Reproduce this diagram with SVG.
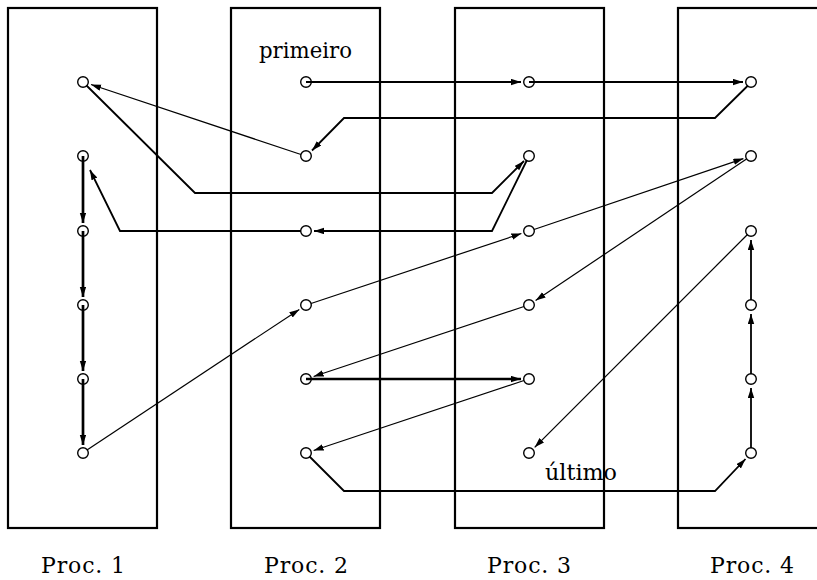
<svg xmlns="http://www.w3.org/2000/svg" width="817" height="580" viewBox="0 0 817 580">
<style>
.box{fill:none;stroke:#000;stroke-width:2.2}
.n{fill:none;stroke:#000;stroke-width:1.4}
.c{fill:none;stroke:#000;marker-end:url(#ah)}
.thin{stroke-width:1.2}
.mid{stroke-width:1.8}
.thick{stroke-width:2.7}
.t{font-family:'DejaVu Serif','Liberation Serif',serif;font-size:22px;fill:#000}
</style>
<defs>
<marker id="ah" markerUnits="userSpaceOnUse" markerWidth="11" markerHeight="7" refX="10" refY="3.2" orient="auto">
<path d="M0,0 L10,3.2 L0,6.4 z" fill="#000"/>
</marker>
</defs>
<rect width="817" height="580" fill="#fff"/>
<g id="proc1"><rect class="box" x="8" y="8" width="149" height="520"/><text class="t" x="83" y="573" text-anchor="middle" textLength="84" lengthAdjust="spacing">Proc. 1</text></g>
<g id="proc2"><rect class="box" x="231" y="8" width="149" height="520"/><text class="t" x="306" y="573" text-anchor="middle" textLength="84" lengthAdjust="spacing">Proc. 2</text></g>
<g id="proc3"><rect class="box" x="455" y="8" width="149" height="520"/><text class="t" x="529" y="573" text-anchor="middle" textLength="84" lengthAdjust="spacing">Proc. 3</text></g>
<g id="proc4"><rect class="box" x="678" y="8" width="160" height="520"/><text class="t" x="752" y="573" text-anchor="middle" textLength="84" lengthAdjust="spacing">Proc. 4</text></g>
<g id="label-primeiro"><text class="t" x="259" y="58" textLength="93" lengthAdjust="spacingAndGlyphs">primeiro</text></g>
<g id="label-ultimo"><text class="t" x="545" y="480" textLength="72" lengthAdjust="spacingAndGlyphs">último</text></g>
<g id="connectors">
<path class="c mid" d="M306,82 L521,82"/>
<path class="c mid" d="M529,82 L743,82"/>
<path class="c mid" d="M748,85.5 L715,118 L344,118 L312,150.5"/>
<path class="c thin" d="M301,154.5 L91,84.5"/>
<path class="c mid" d="M86.5,85.5 L195,193 L492,193 L524,161"/>
<path class="c mid" d="M527,160 L492,231 L314,231"/>
<path class="c mid" d="M301,231 L120,231 L90,170"/>
<path class="c thin" d="M311,303.5 L521.4,233.5"/>
<path class="c thin" d="M534,229.5 L743.4,158.6"/>
<path class="c thin" d="M87,450 L299.3,309.4"/>
<path class="c thin" d="M746.5,159 L535.6,300.5"/>
<path class="c thin" d="M524,306.5 L313.6,376.5"/>
<path class="c thick" d="M306,379 L521,379"/>
<path class="c thin" d="M524,380.5 L313.6,450.5"/>
<path class="c mid" d="M309.5,456.5 L344,491 L715,491 L745.5,459"/>
<path class="c mid" d="M751,448 L751,388"/>
<path class="c mid" d="M751,374 L751,314"/>
<path class="c mid" d="M751,300 L751,240"/>
<path class="c thin" d="M747.5,234.5 L534.7,447.3"/>
<path class="c thick" d="M83,156 L83,223"/>
<path class="c thick" d="M83,231 L83,297"/>
<path class="c thick" d="M83,305 L83,371"/>
<path class="c thick" d="M83,379 L83,445"/>
</g>
<g id="n1-1"><circle class="n" cx="83" cy="82" r="5.3"/></g>
<g id="n1-2"><circle class="n" cx="83" cy="156" r="5.3"/></g>
<g id="n1-3"><circle class="n" cx="83" cy="231" r="5.3"/></g>
<g id="n1-4"><circle class="n" cx="83" cy="305" r="5.3"/></g>
<g id="n1-5"><circle class="n" cx="83" cy="379" r="5.3"/></g>
<g id="n1-6"><circle class="n" cx="83" cy="453" r="5.3"/></g>
<g id="n2-1"><circle class="n" cx="306" cy="82" r="5.3"/></g>
<g id="n2-2"><circle class="n" cx="306" cy="156" r="5.3"/></g>
<g id="n2-3"><circle class="n" cx="306" cy="231" r="5.3"/></g>
<g id="n2-4"><circle class="n" cx="306" cy="305" r="5.3"/></g>
<g id="n2-5"><circle class="n" cx="306" cy="379" r="5.3"/></g>
<g id="n2-6"><circle class="n" cx="306" cy="453" r="5.3"/></g>
<g id="n3-1"><circle class="n" cx="529" cy="82" r="5.3"/></g>
<g id="n3-2"><circle class="n" cx="529" cy="156" r="5.3"/></g>
<g id="n3-3"><circle class="n" cx="529" cy="231" r="5.3"/></g>
<g id="n3-4"><circle class="n" cx="529" cy="305" r="5.3"/></g>
<g id="n3-5"><circle class="n" cx="529" cy="379" r="5.3"/></g>
<g id="n3-6"><circle class="n" cx="529" cy="453" r="5.3"/></g>
<g id="n4-1"><circle class="n" cx="751" cy="82" r="5.3"/></g>
<g id="n4-2"><circle class="n" cx="751" cy="156" r="5.3"/></g>
<g id="n4-3"><circle class="n" cx="751" cy="231" r="5.3"/></g>
<g id="n4-4"><circle class="n" cx="751" cy="305" r="5.3"/></g>
<g id="n4-5"><circle class="n" cx="751" cy="379" r="5.3"/></g>
<g id="n4-6"><circle class="n" cx="751" cy="453" r="5.3"/></g>
</svg>
